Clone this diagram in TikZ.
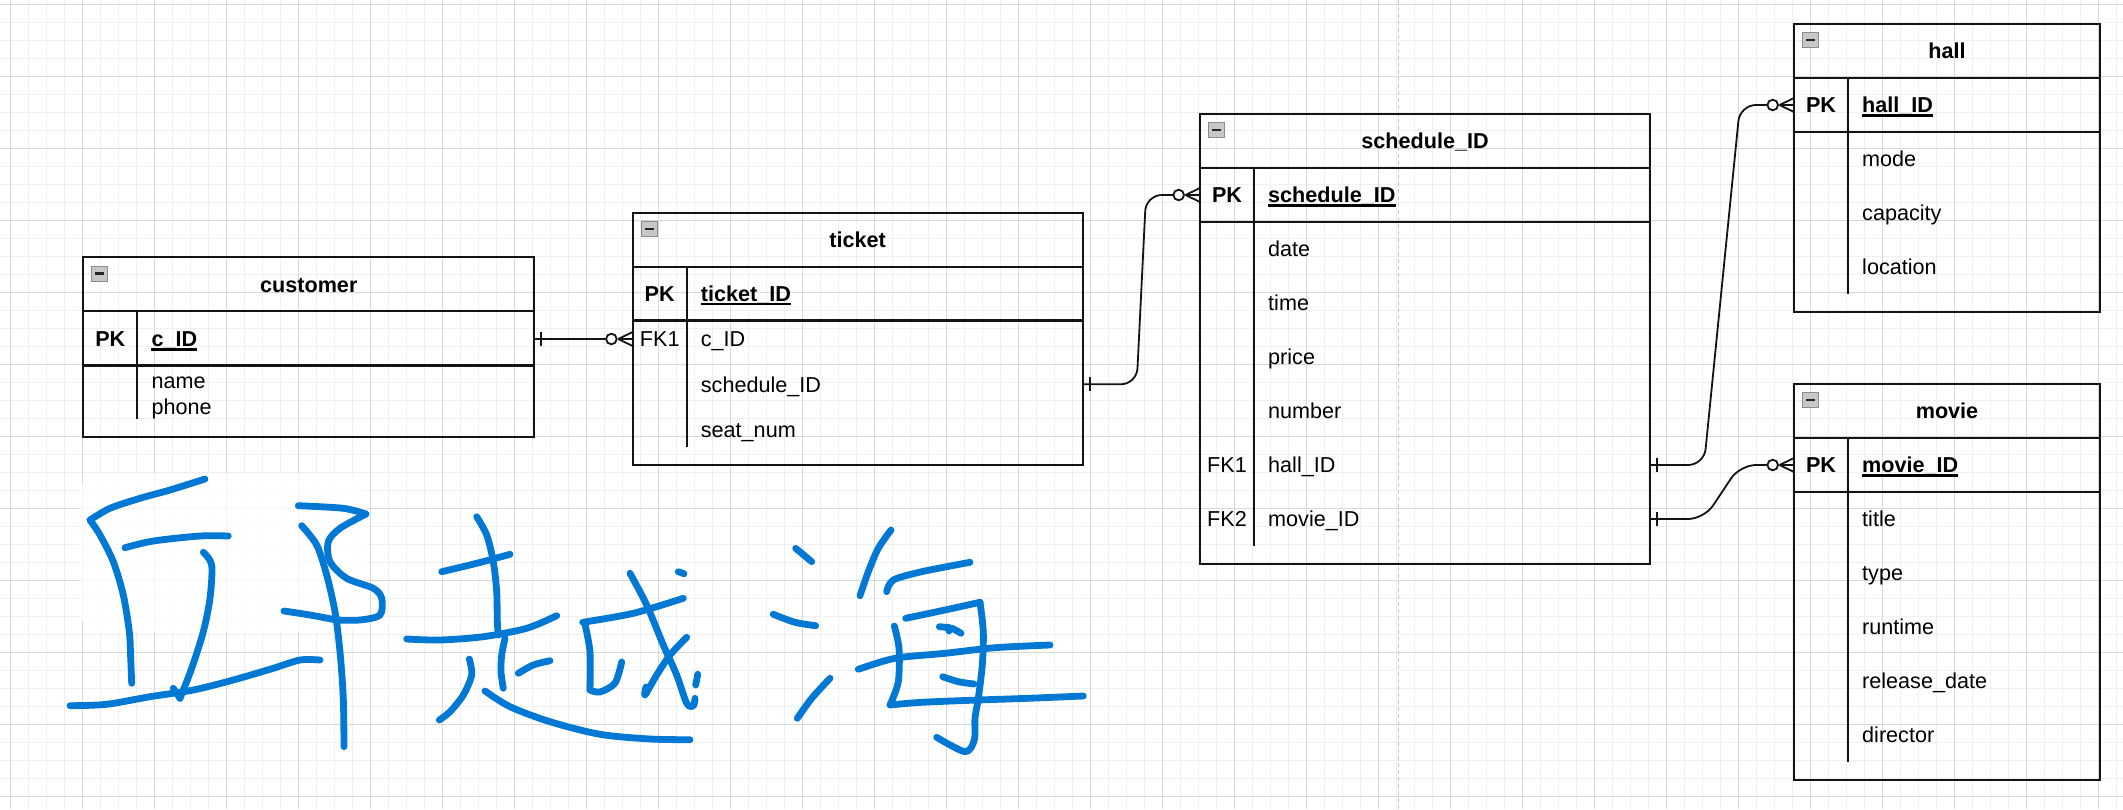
\documentclass[tikz,border=0pt]{standalone}
\usepackage{fontspec}
\setmainfont{Liberation Sans}
\usetikzlibrary{calc}

\definecolor{ink}{HTML}{0078D4}
\definecolor{gminor}{HTML}{F0F0F0}
\definecolor{gmajor}{HTML}{D8D8D8}
\definecolor{edgec}{HTML}{141414}

\newcommand{\fs}{\fontsize{21.6}{25.7}\selectfont}

\tikzset{
  tblbox/.style={draw=edgec, line width=2pt, inner sep=0pt, outer sep=0pt, anchor=north west, rectangle},
  rowline/.style={draw=edgec, line width=1.8pt},
  pkline/.style={draw=edgec, line width=2.6pt},
  ttl/.style={font=\fs\bfseries, inner sep=0pt, text height=15.5pt, text depth=0pt},
  fld/.style={font=\fs, anchor=west, inner sep=0pt, text height=15.5pt, text depth=0pt},
  key/.style={font=\fs\bfseries, inner sep=0pt, text height=15.5pt, text depth=0pt},
  fkey/.style={font=\fs, inner sep=0pt, text height=15.5pt, text depth=0pt},
  pkname/.style={fld, font=\fs\bfseries},
  uline/.style={draw=black, line width=2.2pt},
  relline/.style={draw=edgec, line width=1.8pt, rounded corners=16pt},
  inkline/.style={draw=ink, line width=6.8pt, line cap=round, line join=round},
  pagebrk/.style={draw=black!22, line width=1.3pt, dash pattern=on 3.5pt off 3.5pt},
  collapse/.pic={
    \draw[draw=black!45, fill=black!22, line width=1pt] (0,0) rectangle (16,15);
    \draw[line width=2.4pt, black!85] (3.5,7.5) -- (12.5,7.5);
  },
  zeromany/.pic={
    \draw[relline, fill=white] (-21.3,0) circle (5.3);
    \draw[relline] (-14.5,0) -- (0,-7) (-14.5,0) -- (0,0) (-14.5,0) -- (0,7);
  },
  onemark/.pic={
    \draw[relline] (7,-7) -- (7,7);
  },
}

\begin{document}
\begin{tikzpicture}[x=1pt,y=-1pt]
\useasboundingbox (0,0) rectangle (2123,809);
\fill[white] (0,0) rectangle (2123,809);

% grid
\foreach \i in {0,...,117}
\draw[gminor, line width=1.5pt] ({10.3+18*\i},0) -- ({10.3+18*\i},809);
\foreach \i in {0,...,44}
\draw[gminor, line width=1.5pt] (0,{4.3+18*\i}) -- (2123,{4.3+18*\i});
\foreach \i in {0,...,29}
\draw[gmajor, line width=1.2pt] ({10.3+72*\i},0) -- ({10.3+72*\i},809);
\foreach \i in {0,...,11}
\draw[gmajor, line width=1.2pt] (0,{4.3+72*\i}) -- (2123,{4.3+72*\i});

\draw[pagebrk] (1398.7,0) -- (1398.7,809);

% tables
\node[tblbox, minimum width=451pt, minimum height=180pt] (customer) at (83.3,257.3) {};
\node[tblbox, minimum width=450pt, minimum height=252pt] (ticket) at (632.7,212.7) {};
\node[tblbox, minimum width=450pt, minimum height=450pt] (sched) at (1200,114) {};
\node[tblbox, minimum width=306pt, minimum height=288pt] (hall) at (1794,24) {};
\node[tblbox, minimum width=306pt, minimum height=396pt] (movie) at (1794,384) {};

\foreach \t in {customer,ticket,sched,hall,movie}
{
\draw[rowline] ($(\t.north west)+(0,54)$) -- ($(\t.north east)+(0,54)$);
\draw[pkline] ($(\t.north west)+(0,108)$) -- ($(\t.north east)+(0,108)$);
\draw[rowline] ($(\t.north west)+(54,54)$) -- ($(\t.south west)+(54,-18)$);
\pic at ($(\t.north west)+(8.4,8.7)$) {collapse};
}

\node[ttl] at ($(customer.north)+(0,27)$) {customer};
\node[ttl] at ($(ticket.north)+(0,27)$) {ticket};
\node[ttl] at ($(sched.north)+(0,27)$) {schedule\_ID};
\node[ttl] at ($(hall.north)+(0,27)$) {hall};
\node[ttl] at ($(movie.north)+(0,27)$) {movie};

% customer
\node[key] at (110.3,339) {PK};
\node[pkname] (c-id) at (151.3,339) {c\_ID};
\node[fld] (c-name) at (151.3,381) {name};
\node[fld] (c-phone) at (151.3,406.7) {phone};

% ticket
\node[key] at (659.7,293.7) {PK};
\node[pkname] (t-id) at (700.7,293.7) {ticket\_ID};
\node[fkey] at (659.7,339) {FK1};
\node[fld] (t-cid) at (700.7,339) {c\_ID};
\node[fld] (t-sid) at (700.7,384.3) {schedule\_ID};
\node[fld] (t-seat) at (700.7,430) {seat\_num};

% schedule
\node[key] at (1227,195) {PK};
\node[pkname] (s-id) at (1268,195) {schedule\_ID};
\node[fld] (s-date) at (1268,249) {date};
\node[fld] (s-time) at (1268,303) {time};
\node[fld] (s-price) at (1268,357) {price};
\node[fld] (s-num) at (1268,411) {number};
\node[fkey] at (1227,465) {FK1};
\node[fld] (s-hall) at (1268,465) {hall\_ID};
\node[fkey] at (1227,519) {FK2};
\node[fld] (s-movie) at (1268,519) {movie\_ID};

% hall
\node[key] at (1821,105) {PK};
\node[pkname] (h-id) at (1862,105) {hall\_ID};
\node[fld] (h-mode) at (1862,159) {mode};
\node[fld] (h-cap) at (1862,213) {capacity};
\node[fld] (h-loc) at (1862,267) {location};

% movie
\node[key] at (1821,465) {PK};
\node[pkname] (m-id) at (1862,465) {movie\_ID};
\node[fld] (m-title) at (1862,519) {title};
\node[fld] (m-type) at (1862,573) {type};
\node[fld] (m-run) at (1862,627) {runtime};
\node[fld] (m-rel) at (1862,681) {release\_date};
\node[fld] (m-dir) at (1862,735) {director};

\foreach \n in {c-id,t-id,s-id,h-id,m-id}
\draw[uline] ([yshift=-2.5pt]\n.south west) -- ([yshift=-2.5pt]\n.south east);

% relations
\draw[relline] (customer.east |- c-id) -- ($(ticket.west |- t-cid)+(-26.6,0)$);
\draw[relline] (ticket.east |- t-sid) -- ++(54,0) -- ($(sched.west |- s-id)+(-54,0)$) -- ($(sched.west |- s-id)+(-26.6,0)$);
\draw[relline] (sched.east |- s-hall) -- ++(54,0) -- ($(hall.west |- h-id)+(-54,0)$) -- ($(hall.west |- h-id)+(-26.6,0)$);
\draw[relline] (sched.east |- s-movie) -- ++(54,0) -- ($(movie.west |- m-id)+(-54,0)$) -- ($(movie.west |- m-id)+(-26.6,0)$);

\pic at (customer.east |- c-id) {onemark};
\pic at (ticket.east |- t-sid) {onemark};
\pic at (sched.east |- s-hall) {onemark};
\pic at (sched.east |- s-movie) {onemark};
\pic at (ticket.west |- t-cid) {zeromany};
\pic at (sched.west |- s-id) {zeromany};
\pic at (hall.west |- h-id) {zeromany};
\pic at (movie.west |- m-id) {zeromany};

% handwriting
\fill[white, opacity=0.75, rounded corners=25pt] (78,473) rectangle (367,632);

\draw[inkline] plot[smooth] coordinates {(205,479) (170,490) (140,498.3) (110,508.3) (90,520)};
\draw[inkline] plot[smooth] coordinates {(90,520) (100,535) (113.3,561.7) (123.3,595) (129.3,631.7) (130.7,658.3) (131.7,683.3)};
\draw[inkline] plot[smooth] coordinates {(125,547.7) (153.3,541) (200,536) (228.3,536)};
\draw[inkline] plot[smooth] coordinates {(203.3,552.3) (211.7,565) (210,598.3) (203.3,631.7) (191.7,668.3) (180,698.3)};
\draw[inkline] (180,698.3) -- (173.3,688.3);
\draw[inkline] plot[smooth] coordinates {(70,705.7) (106.7,704.3) (150,696.7) (193.3,690) (233.3,680) (273.3,668.3) (300,660) (320,660)};
\draw[inkline] plot[smooth] coordinates {(298.3,505.7) (343.3,508.3) (366,514)};
\draw[inkline] plot[smooth] coordinates {(366,514) (340,528.3) (328.3,541.7) (330,561.7) (346.7,578.3) (373.3,588.3) (381.7,598.3) (380,615) (360,620) (336.7,620)};
\draw[inkline] plot[smooth] coordinates {(284,611) (310,615) (336.7,620)};
\draw[inkline] plot[smooth] coordinates {(301.7,525.7) (316.7,545) (326.7,575) (335,611.7) (340,651.7) (343.3,698.3) (344,746.7)};

\draw[inkline] plot[smooth] coordinates {(406.7,639) (440,640) (483.3,636.7) (526.7,628.3) (556.7,615.7)};
\draw[inkline] plot[smooth] coordinates {(476.7,516.7) (486.7,535) (493.3,561.7) (496.7,591.7) (497.3,621.7) (498.3,635)};
\draw[inkline] plot[smooth] coordinates {(441.7,571.7) (476.7,563.3) (510,554.3)};
\draw[inkline] plot[smooth] coordinates {(505,638.3) (501.7,655) (501,671.7) (503.3,688.3)};
\draw[inkline] plot[smooth] coordinates {(518.3,673.3) (533.3,665) (550,660.7)};
\draw[inkline] plot[smooth] coordinates {(469.3,659) (471.7,675) (463.3,695) (450,711.7) (439.3,720)};
\draw[inkline] plot[smooth] coordinates {(485,691) (510,706.7) (550,721.7) (600,734.3) (650,739) (690,739.7)};
\draw[inkline] plot[smooth] coordinates {(582.7,622.3) (633.3,613.3) (683.3,598.3)};
\draw[inkline] plot[smooth] coordinates {(585,624.3) (590,652) (590,690)};
\draw[inkline] plot[smooth] coordinates {(590,690) (600,692) (615,683) (621.7,662)};
\draw[inkline] plot[smooth] coordinates {(630,573.3) (646.7,605) (663.3,645) (676.7,675) (686.7,703.3) (693.3,706) (695,698.3)};
\draw[inkline] plot[smooth] coordinates {(686.7,637.3) (670,655) (656.7,675) (645,695) (646,687)};
\draw[inkline] (678.3,571.7) -- (684,573.7);
\draw[inkline] (697.7,674.3) -- (695.7,685);

\draw[inkline] (795.7,548.3) -- (811.7,561.7);
\draw[inkline] plot[smooth] coordinates {(773.3,614.3) (795,622.3) (815.7,625.7)};
\draw[inkline] plot[smooth] coordinates {(797.3,718.3) (811.7,698.3) (830,678.3)};
\draw[inkline] plot[smooth] coordinates {(860,595.7) (868.3,571.7) (878.3,548.3) (891,530)};
\draw[inkline] plot[smooth] coordinates {(886.7,591.7) (893.3,580) (921.7,571.7) (970,562.3)};
\draw[inkline] plot[smooth] coordinates {(905.7,618.3) (945,610) (980,602.3)};
\draw[inkline] plot[smooth] coordinates {(980,602.3) (983.3,631.7) (982.3,665) (978.3,698.3) (975,718.3) (974.3,740) (965,751.7) (936.7,737.3)};
\draw[inkline] plot[smooth] coordinates {(894.3,626) (899,648.3) (898.3,681.7) (890,705)};
\draw[inkline] plot[smooth] coordinates {(890,705) (921.7,702.3) (978.3,700) (1028.3,698.3) (1083.3,696)};
\draw[inkline] plot[smooth] coordinates {(858.3,669.3) (895,658.3) (945,653.3) (995,647.7) (1050,645)};
\draw[inkline] plot[smooth] coordinates {(939.3,626.7) (951.7,628.3) (961,633.3)};
\draw[inkline] (948,627) -- (949,631);
\draw[inkline] plot[smooth] coordinates {(942.7,676.7) (958.3,681.7) (974,684)};
\end{tikzpicture}
\end{document}
